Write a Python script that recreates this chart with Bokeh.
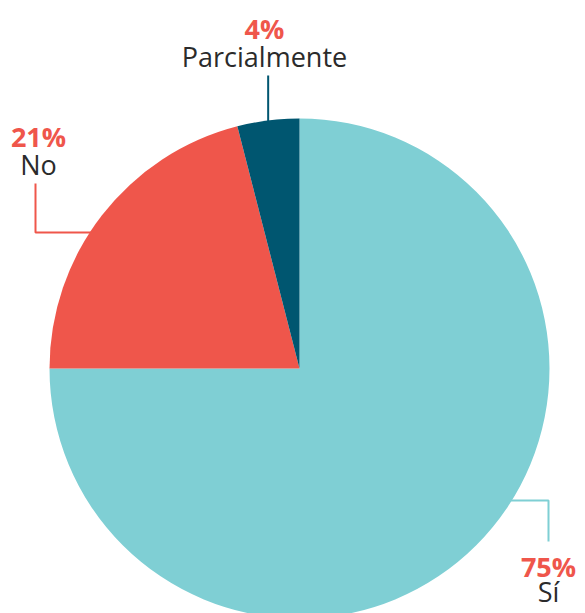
import math
from bokeh.plotting import figure
from bokeh.models import Range1d, ColumnDataSource
from bokeh.core.properties import value
from bokeh.embed import file_html
from bokeh.resources import INLINE

categories = ["Sí", "No", "Parcialmente"]
percents = [75, 21, 4]
colors = ["#7FCFD4", "#EF564B", "#005670"]

W, H = 585, 613
p = figure(width=W, height=H, x_range=Range1d(0, W), y_range=Range1d(0, H),
           output_backend="svg", toolbar_location=None, min_border=0)
p.axis.visible = False
p.grid.visible = False
p.outline_line_color = None
p.background_fill_color = "white"
p.border_fill_color = "white"

cx, cy, r = 299, H - 368, 250
total = sum(percents)
starts, ends, mids = [], [], []
cum = 0.0
for v in percents:
    s = 90 - cum / total * 360
    e = 90 - (cum + v) / total * 360
    starts.append(math.radians(s))
    ends.append(math.radians(e))
    mids.append(math.radians((s + e) / 2))
    cum += v

def py(y):
    return H - y

# leader lines (drawn beneath wedges)
p.line([505, 548, 548], [py(500), py(500), py(541)], line_color=colors[0], line_width=2)
p.line([35, 35, 110], [py(183), py(232), py(232)], line_color=colors[1], line_width=2)
xm = cx + r * math.cos(mids[2])
p.line([xm, xm], [py(75), py(130)], line_color=colors[2], line_width=2)

src = ColumnDataSource(dict(start=starts, end=ends, color=colors, cat=categories))
p.wedge(x=cx, y=cy, radius=r, start_angle="start", end_angle="end", direction="clock",
        fill_color="color", line_color=None, source=src)

dy = 9  # baseline correction
label_pos = [(548, 575, 600), (38, 145, 173), (264, 37, 65)]
pct_x, pct_y, lab_x, lab_y, pct_t, lab_t = [], [], [], [], [], []
for (lx, yp, yl), c, v in zip(label_pos, categories, percents):
    pct_x.append(lx); pct_y.append(py(yp - dy)); pct_t.append(f"{v}%")
    lab_x.append(lx); lab_y.append(py(yl - dy)); lab_t.append(c)

p.text(x=pct_x, y=pct_y, text=pct_t, text_align="center", text_baseline="alphabetic",
       text_font=value("Open Sans"), text_font_style="bold", text_font_size="27px",
       text_color="#EF564B")
p.text(x=lab_x, y=lab_y, text=lab_t, text_align="center", text_baseline="alphabetic",
       text_font=value("Open Sans"), text_font_size="27px", text_color="#2B2B2B")

open("out.html", "w").write(file_html(p, INLINE))
